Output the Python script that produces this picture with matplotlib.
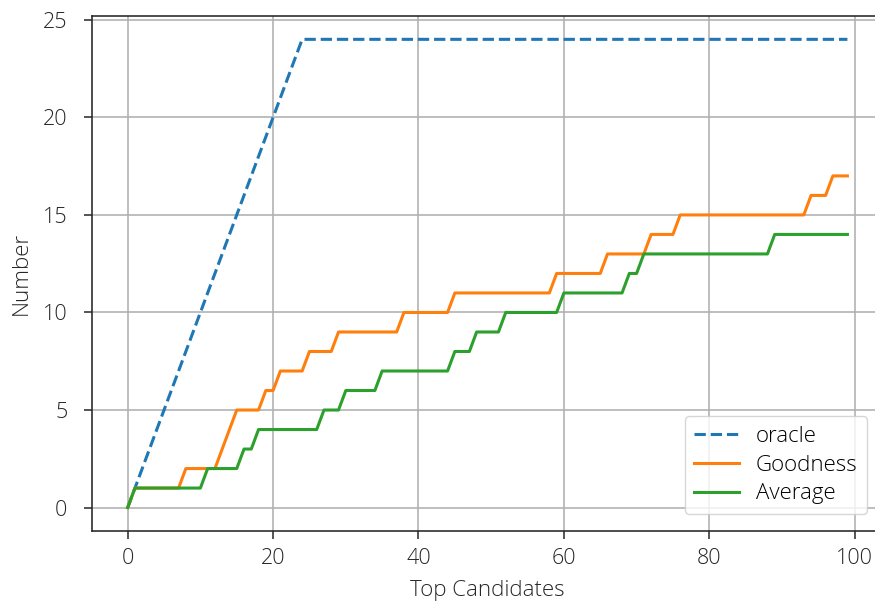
import matplotlib
matplotlib.use("Agg")
import matplotlib.pyplot as plt

plt.rcParams['font.family'] = ['Open Sans', 'DejaVu Sans']
plt.rcParams['font.weight'] = 'light'
plt.rcParams['axes.labelweight'] = 'light'

# Number of hits among the top-k candidates, k = 0..99
top_k = list(range(100))

oracle = [0, 1, 2, 3, 4, 5, 6, 7, 8, 9,
          10, 11, 12, 13, 14, 15, 16, 17, 18, 19,
          20, 21, 22, 23, 24, 24, 24, 24, 24, 24,
          24, 24, 24, 24, 24, 24, 24, 24, 24, 24,
          24, 24, 24, 24, 24, 24, 24, 24, 24, 24,
          24, 24, 24, 24, 24, 24, 24, 24, 24, 24,
          24, 24, 24, 24, 24, 24, 24, 24, 24, 24,
          24, 24, 24, 24, 24, 24, 24, 24, 24, 24,
          24, 24, 24, 24, 24, 24, 24, 24, 24, 24,
          24, 24, 24, 24, 24, 24, 24, 24, 24, 24]

goodness = [0, 1, 1, 1, 1, 1, 1, 1, 2, 2,
            2, 2, 2, 3, 4, 5, 5, 5, 5, 6,
            6, 7, 7, 7, 7, 8, 8, 8, 8, 9,
            9, 9, 9, 9, 9, 9, 9, 9, 10, 10,
            10, 10, 10, 10, 10, 11, 11, 11, 11, 11,
            11, 11, 11, 11, 11, 11, 11, 11, 11, 12,
            12, 12, 12, 12, 12, 12, 13, 13, 13, 13,
            13, 13, 14, 14, 14, 14, 15, 15, 15, 15,
            15, 15, 15, 15, 15, 15, 15, 15, 15, 15,
            15, 15, 15, 15, 16, 16, 16, 17, 17, 17]

average = [0, 1, 1, 1, 1, 1, 1, 1, 1, 1,
           1, 2, 2, 2, 2, 2, 3, 3, 4, 4,
           4, 4, 4, 4, 4, 4, 4, 5, 5, 5,
           6, 6, 6, 6, 6, 7, 7, 7, 7, 7,
           7, 7, 7, 7, 7, 8, 8, 8, 9, 9,
           9, 9, 10, 10, 10, 10, 10, 10, 10, 10,
           11, 11, 11, 11, 11, 11, 11, 11, 11, 12,
           12, 13, 13, 13, 13, 13, 13, 13, 13, 13,
           13, 13, 13, 13, 13, 13, 13, 13, 13, 14,
           14, 14, 14, 14, 14, 14, 14, 14, 14, 14]

fig = plt.figure(figsize=(8.75, 6.01), dpi=100)
ax = fig.add_axes([0.1048, 0.1165, 0.9048, 0.857])

lw = 2.2
ax.plot(top_k, oracle, linestyle='--', color='#1f77b4', linewidth=lw, label='oracle')
ax.plot(top_k, goodness, color='#ff7f0e', linewidth=lw, label='Goodness')
ax.plot(top_k, average, color='#2ca02c', linewidth=lw, label='Average')

ax.set_xlim(-4.95, 103.95)
ax.set_ylim(-1.2, 25.2)
ax.set_xticks([0, 20, 40, 60, 80, 100])
ax.set_yticks([0, 5, 10, 15, 20, 25])
ax.grid(True, color='#b0b0b0', linewidth=1.15)
ax.tick_params(labelsize=15.5, length=6, width=1.1, colors='#262626')
ax.tick_params(axis='y', pad=11.5)
ax.tick_params(axis='x', pad=6)
ax.spines['right'].set_visible(False)
for s in ax.spines.values():
    s.set_linewidth(1.15)
    s.set_color('#262626')

ax.set_xlabel('Top Candidates', fontsize=16, color='#262626', labelpad=8,
              fontweight='light')
ax.set_ylabel('Number', fontsize=16, color='#262626', labelpad=8,
              fontweight='light')

leg = ax.legend(loc='lower right', bbox_to_anchor=(0.9935, 0.012), fontsize=16,
                handlelength=2.05, handletextpad=0.75, borderpad=0.42,
                labelspacing=0.35, framealpha=0.8)

fig.savefig('out.png', dpi=100)
